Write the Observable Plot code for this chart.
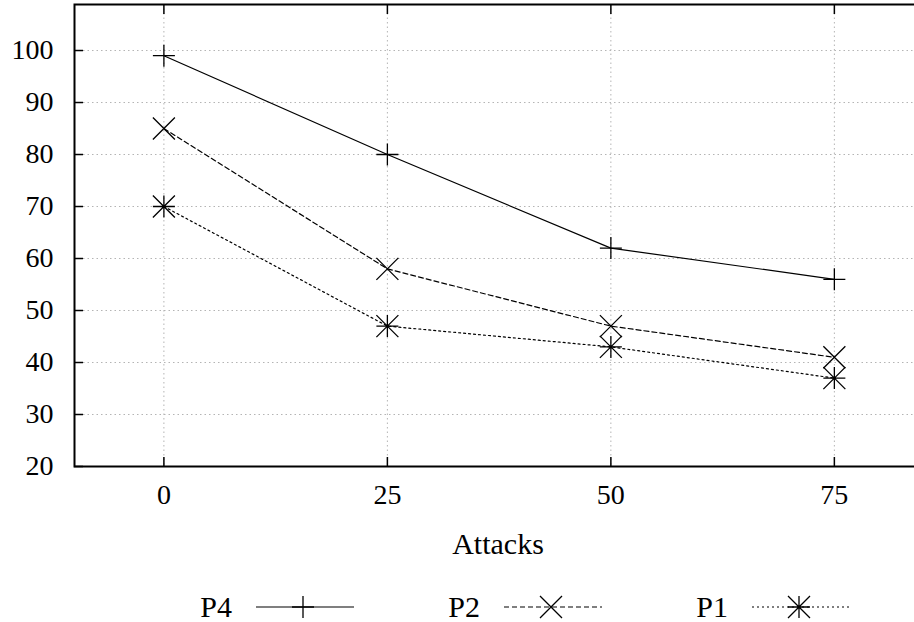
<!DOCTYPE html>
<html><head><meta charset="utf-8">
<script src="https://cdn.jsdelivr.net/npm/d3@7"></script>
<script src="https://cdn.jsdelivr.net/npm/@observablehq/plot@0.6"></script>
<style>body{margin:0;background:#fff;} svg{display:block;} #wrap{width:914px;overflow:hidden;}</style>
</head><body><div id="wrap"></div>
<script>
// ---- data ----
const attacks = [0, 25, 50, 75];
const p4 = [99, 80, 62, 56];
const p2 = [85, 58, 47, 41];
const p1 = [70, 47, 43, 37];
const xTicks = [0, 25, 50, 75];
const yTicks = [20, 30, 40, 50, 60, 70, 80, 90, 100];
const seriesNames = ["P4", "P2", "P1"];
const xLabel = "Attacks";

// ---- symbols (half-length = sqrt(size/PI) = r) ----
const len = s => Math.sqrt(s / Math.PI);
const plusSym = {draw(c, s){const r = len(s); c.moveTo(-r,0); c.lineTo(r,0); c.moveTo(0,-r); c.lineTo(0,r);}};
const timesSym = {draw(c, s){const r = len(s); c.moveTo(-r,-r); c.lineTo(r,r); c.moveTo(-r,r); c.lineTo(r,-r);}};
const starSym = {draw(c, s){plusSym.draw(c, s); timesSym.draw(c, s);}};

const seriesValues = [p4, p2, p1];
const styles = [
  {dash: null, sym: plusSym},
  {dash: "5,3", sym: timesSym},
  {dash: "2,3", sym: starSym}
];
const tables = seriesValues.map((vals, i) => attacks.map((a, j) => ({series: seriesNames[i], x: a, y: vals[j]})));

const font = "'Liberation Serif', 'Times New Roman', serif";
const R = 11;

const marks = [
  Plot.gridX(xTicks, {stroke: "#b4b4b4", strokeOpacity: 1, strokeDasharray: "1.5,3", strokeWidth: 1}),
  Plot.gridY(yTicks.slice(1), {stroke: "#b4b4b4", strokeOpacity: 1, strokeDasharray: "1.5,3", strokeWidth: 1}),
];
tables.forEach((t, i) => {
  marks.push(Plot.line(t, {x: "x", y: "y", stroke: "#000", strokeWidth: 1.2, strokeDasharray: styles[i].dash}));
  marks.push(Plot.dot(t, {x: "x", y: "y", r: R, symbol: styles[i].sym, stroke: "#000", strokeWidth: 1.3, fill: "none"}));
});
marks.push(
  Plot.axisY(yTicks, {anchor: "left", tickSize: 9, dx: 9, tickFormat: () => "", label: null, strokeWidth: 1.5}),
  Plot.axisY(yTicks, {anchor: "left", tickSize: 0, tickPadding: 21, label: null, fontSize: 28}),
  Plot.axisX(xTicks, {anchor: "bottom", tickSize: 9, dy: -9, tickFormat: () => "", label: null, strokeWidth: 1.5}),
  Plot.axisX(xTicks, {anchor: "top", tickSize: 9, dy: 9, tickFormat: () => "", label: null, strokeWidth: 1.5}),
  Plot.axisX(xTicks, {anchor: "bottom", tickSize: 0, tickPadding: 18, label: null, fontSize: 28}),
  Plot.frame({stroke: "#000", strokeWidth: 2}),
  Plot.text([xLabel], {frameAnchor: "bottom", dy: 87, dx: 2, fontSize: 30})
);

const chart = Plot.plot({
  width: 914, height: 578,
  marginLeft: 74, marginRight: -3, marginTop: 4, marginBottom: 112,
  style: {fontFamily: font, fontSize: "28px", color: "#000", background: "#fff", overflow: "hidden"},
  x: {domain: [-10, 84.3]},
  y: {domain: [20, 108.85]},
  marks
});
document.getElementById("wrap").appendChild(chart);

// ---- legend ----
const leg = d3.create("svg").attr("width", 914).attr("height", 44).style("font-family", font).style("font-size", "30px");
seriesNames.forEach((name, i) => {
  const tr = 232 + 248 * i;
  const ly = 29;
  leg.append("text").attr("x", tr).attr("y", 39).attr("text-anchor", "end").attr("fill", "#000").text(name);
  leg.append("line").attr("x1", tr + 24).attr("x2", tr + 122).attr("y1", ly).attr("y2", ly)
    .attr("stroke", "#000").attr("stroke-width", 1.2).attr("stroke-dasharray", styles[i].dash);
  const p = d3.path();
  styles[i].sym.draw(p, Math.PI * R * R);
  leg.append("path").attr("d", p.toString()).attr("transform", `translate(${tr + 71},${ly})`)
    .attr("stroke", "#000").attr("stroke-width", 1.3).attr("fill", "none");
});
document.getElementById("wrap").appendChild(leg.node());
</script>
</body></html>
